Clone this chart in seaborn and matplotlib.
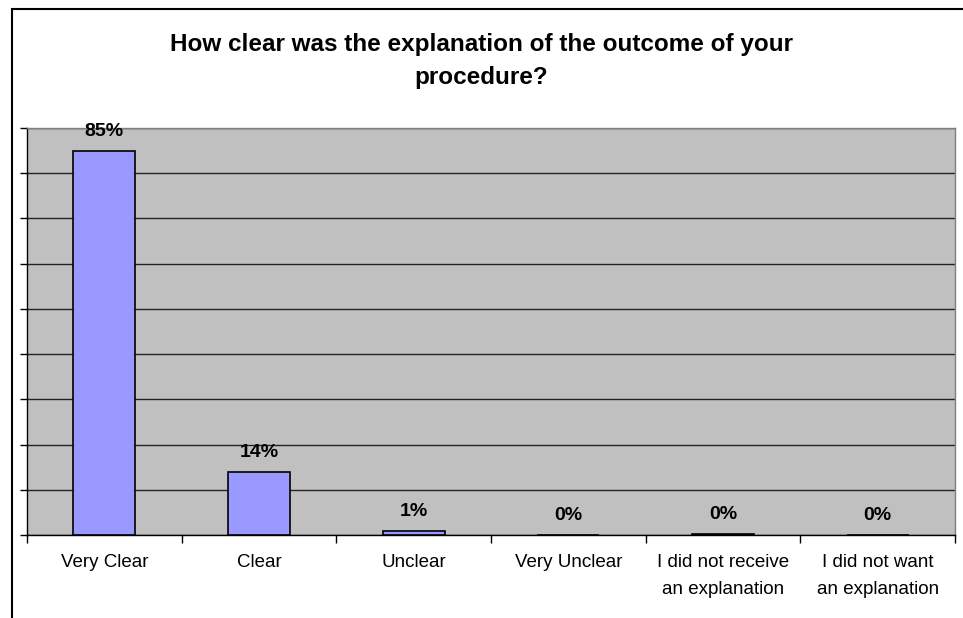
import matplotlib
matplotlib.use("Agg")
import matplotlib.pyplot as plt
import seaborn as sns
import pandas as pd
import numpy as np
from matplotlib.patches import Rectangle

# --- DATA ---
categories = ["Very Clear", "Clear", "Unclear", "Very Unclear",
              "I did not receive\nan explanation", "I did not want\nan explanation"]
percent = [85, 14, 0.8, 0, 0.3, 0]

df = pd.DataFrame({"answer": categories, "pct": percent})

sns.set_style("white")
plt.rcParams["font.family"] = ["Liberation Sans", "DejaVu Sans"]
plt.rcParams["text.color"] = "black"
plt.rcParams["xtick.color"] = "black"

fig = plt.figure(figsize=(9.63, 6.18), dpi=100)
ax = fig.add_axes([27 / 963, 83 / 618, 928 / 963, 407 / 618])
ax.set_facecolor("#C0C0C0")

sns.barplot(data=df, x="answer", y="pct", color="#9999FF", width=0.4,
            edgecolor="black", linewidth=1.2, saturation=1, ax=ax, zorder=3)

ax.set_xlim(-0.5, len(categories) - 0.5)
ax.set_ylim(0, 90)
ax.set_yticks(np.arange(0, 91, 10))
ax.set_yticklabels([])
ax.yaxis.grid(True, color="#222222", linewidth=1, zorder=1)
ax.set_axisbelow(True)
ax.tick_params(axis="y", which="major", direction="out", length=5, width=1, color="black", left=True)

# category boundary ticks on x axis
ax.set_xticks(np.arange(-0.5, len(categories), 1.0), minor=True)
ax.tick_params(axis="x", which="minor", direction="out", length=6, width=1, color="black", bottom=True)
ax.tick_params(axis="x", which="major", length=0, pad=14)
ax.set_xticks(range(len(categories)))
ax.set_xticklabels(categories, fontsize=13.5, linespacing=1.75, color="black")
ax.set_xlabel("")
ax.set_ylabel("")

for side in ["top", "right"]:
    ax.spines[side].set_color("#808080")
    ax.spines[side].set_linewidth(1)
for side in ["left", "bottom"]:
    ax.spines[side].set_color("black")
    ax.spines[side].set_linewidth(1)

for i, v in enumerate(percent):
    ax.annotate(f"{v:.0f}%", xy=(i, v), xytext=(0, 8), textcoords="offset points",
                ha="center", va="bottom", fontsize=14, fontweight="bold", color="black")

fig.text(0.5, 1 - 61 / 618, "How clear was the explanation of the outcome of your\nprocedure?",
         ha="center", va="center", fontsize=17.5, fontweight="bold", linespacing=1.55,
         color="black")

# outer chart border (cropped on right and bottom)
fig.patches.append(Rectangle((12 / 963, -0.1), 1.0, 1.1 - 9 / 618, transform=fig.transFigure,
                             fill=False, edgecolor="black", linewidth=1.5))

fig.savefig("out.png", dpi=100)
